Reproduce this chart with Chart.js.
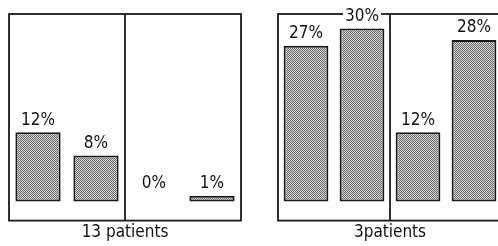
<!DOCTYPE html>
<html>
<head>
<meta charset="utf-8">
<script src="https://cdn.jsdelivr.net/npm/chart.js@4"></script>
<style>
  html, body { margin: 0; padding: 0; background: #fff; overflow: hidden; }
  body { width: 498px; height: 246px; position: relative; }
  canvas { position: absolute; top: 0; }
  #leftChart { left: 0; }
  #rightChart { left: 250px; }
</style>
</head>
<body>
<canvas id="leftChart" width="250" height="246"></canvas>
<canvas id="rightChart" width="260" height="246"></canvas>
<script>
// data
const leftCategories = ["A1", "A2", "B1", "B2"];
const leftValues = [12, 8, 0, 1];
const leftTitle = "13 patients";

const rightCategories = ["A1", "A2", "B1", "B2"];
const rightValues = [27, 30, 12, 28];
const rightTitle = "3patients";

const FONT = "'DejaVu Sans Condensed', 'Liberation Sans Narrow', 'DejaVu Sans', sans-serif";

// grey stipple fill like the printed halftone
function makeStipple() {
  const tile = document.createElement("canvas");
  tile.width = 2;
  tile.height = 2;
  const g = tile.getContext("2d");
  g.fillStyle = "#dadada";
  g.fillRect(0, 0, 2, 2);
  g.fillStyle = "#666666";
  g.fillRect(0, 0, 1, 1);
  g.fillRect(1, 1, 1, 1);
  return g.createPattern(tile, "repeat");
}
const stipple = makeStipple();

const framePlugin = {
  id: "frame",
  beforeDatasetsDraw(chart) {
    const { ctx, chartArea: a } = chart;
    ctx.save();
    ctx.strokeStyle = "#1a1a1a";
    ctx.lineWidth = 1.8;
    ctx.strokeRect(a.left, a.top, a.right - a.left, a.bottom - a.top);
    const mid = (a.left + a.right) / 2;
    ctx.beginPath();
    ctx.moveTo(mid, a.top);
    ctx.lineTo(mid, a.bottom);
    ctx.stroke();
    ctx.restore();
  },
  afterDatasetsDraw(chart) {
    const { ctx } = chart;
    const meta = chart.getDatasetMeta(0);
    const zero = chart.scales.y.getPixelForValue(0);
    ctx.save();
    ctx.font = "17px " + FONT;
    ctx.textAlign = "center";
    ctx.textBaseline = "middle";
    meta.data.forEach((bar, i) => {
      const text = chart.data.datasets[0].data[i] + "%";
      const y = Math.min(bar.y, zero - 6) - 12;
      const w = ctx.measureText(text).width;
      ctx.fillStyle = "#fff";
      ctx.fillRect(bar.x - w / 2 - 2, y - 7, w + 4, 14);
      ctx.fillStyle = "#111";
      ctx.fillText(text, bar.x, y);
    });
    ctx.restore();
  }
};

function makeChart(id, categories, values, title, pad, barPct) {
  return new Chart(document.getElementById(id), {
    type: "bar",
    data: {
      labels: categories,
      datasets: [{
        data: values,
        backgroundColor: stipple,
        borderColor: "#1a1a1a",
        borderWidth: 2,
        borderSkipped: false,
        barPercentage: barPct,
        categoryPercentage: 1
      }]
    },
    options: {
      responsive: false,
      animation: false,
      devicePixelRatio: 1,
      layout: { padding: pad },
      plugins: { legend: { display: false }, tooltip: { enabled: false } },
      scales: {
        x: {
          ticks: { display: false },
          grid: { display: false, drawTicks: false },
          border: { display: false },
          title: {
            display: true,
            text: title,
            color: "#111",
            font: { family: FONT, size: 17 },
            padding: { top: 2, bottom: 3 }
          }
        },
        y: { display: false, min: -3.3, max: 32.5 }
      }
    },
    plugins: [framePlugin]
  });
}

makeChart("leftChart", leftCategories, leftValues, leftTitle, { left: 9, right: 9, top: 14, bottom: 0 }, 0.78);
makeChart("rightChart", rightCategories, rightValues, rightTitle, { left: 28, right: 8, top: 14, bottom: 0 }, 0.8);
</script>
</body>
</html>
